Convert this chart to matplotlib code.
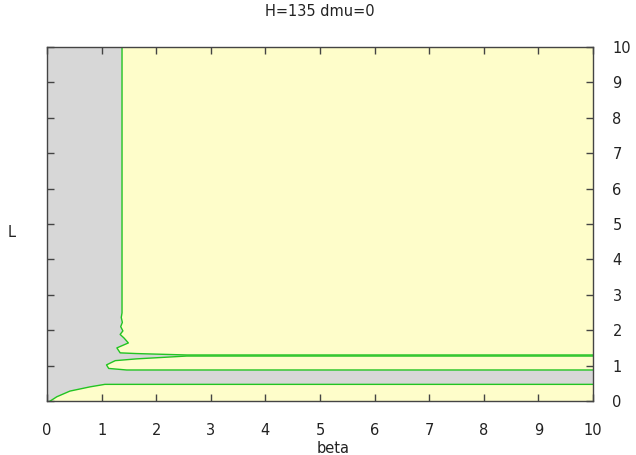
import numpy as np
import matplotlib.pyplot as plt

# boundary of the upper yellow region (left wiggly edge, then bottom edge)
upper_x = [1.374, 1.374, 1.36, 1.38, 1.35, 1.39, 1.34, 1.41, 1.49, 1.28, 1.34, 1.64, 2.56, 10.0]
upper_y = [10.0, 2.49, 2.36, 2.22, 2.10, 1.98, 1.88, 1.78, 1.64, 1.50, 1.36, 1.34, 1.30, 1.30]

# lower yellow finger between L~0.88 and L~1.27
band_x = [10.0, 2.56, 1.64, 1.25, 1.09, 1.13, 1.46, 10.0]
band_y = [1.27, 1.27, 1.19, 1.14, 1.02, 0.92, 0.876, 0.876]

# bottom yellow region near the beta axis
bottom_x = [0.06, 0.18, 0.42, 0.79, 1.06, 10.0]
bottom_y = [0.0, 0.12, 0.28, 0.40, 0.47, 0.47]

xticks = [0, 1, 2, 3, 4, 5, 6, 7, 8, 9, 10]
yticks = [0, 1, 2, 3, 4, 5, 6, 7, 8, 9, 10]

gray = '#d7d7d7'
yellow = '#fefdca'
green = '#22c422'
txt = '#222222'

fig = plt.figure(figsize=(6.36, 4.55), dpi=100)
ax = fig.add_axes([47 / 636, 54 / 455, 546 / 636, 354 / 455])
ax.set_facecolor(gray)

ax.fill(upper_x + [10.0], upper_y + [10.0], color=yellow, lw=0)
ax.fill(band_x, band_y, color=yellow, lw=0)
ax.fill(bottom_x + [10.0], bottom_y + [0.0], color=yellow, lw=0)

ax.plot(upper_x, upper_y, color=green, lw=1.0)
ax.plot(band_x, band_y, color=green, lw=1.0)
ax.plot(bottom_x, bottom_y, color=green, lw=1.0)

ax.set_xlim(0, 10)
ax.set_ylim(0, 10)
ax.set_xticks(xticks)
ax.set_yticks(yticks)
ax.tick_params(axis='both', direction='in', length=5, width=1, color='#444444',
               labelsize=10.5, labelcolor=txt, top=True, right=True)
ax.tick_params(axis='y', labelleft=False, labelright=True, pad=14)
ax.tick_params(axis='x', pad=16)
for s in ax.spines.values():
    s.set_color('#444444')
    s.set_linewidth(1)

ax.set_title('H=135 dmu=0', fontsize=10.5, color=txt, pad=22)
ax.set_xlabel('beta', fontsize=10.5, color=txt)
ax.xaxis.set_label_coords((333 - 47) / 546, -0.113)
ax.set_ylabel('L', fontsize=10.5, color=txt, rotation=0)
ax.yaxis.set_label_coords(-0.065, 0.455)

plt.savefig('out.png', dpi=100)
